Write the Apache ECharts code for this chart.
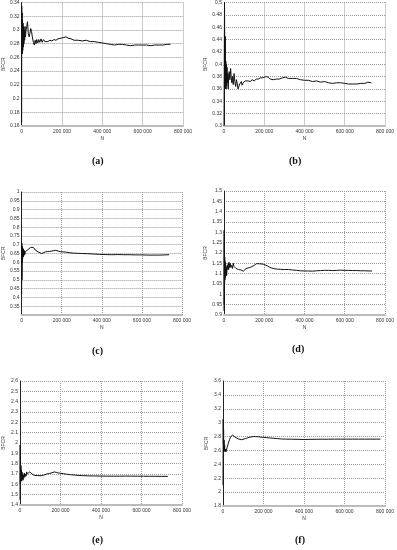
<!DOCTYPE html>
<html><head><meta charset="utf-8">
<script src="https://cdn.jsdelivr.net/npm/echarts@6/dist/echarts.min.js"></script>
<style>html,body{margin:0;padding:0;background:#fff}#c{width:397px;height:550px}</style>
</head><body><div id="c"></div>
<script>
// ---- Data (N, BFCR) per panel ----
const nA = [0,500,1500,2500,3500,4500,5500,7000,8500,10000,11500,13000,15000,17000,19000,22000,25000,29000,33000,37000,41000,45000,49000,53000,58000,63000,67000,71000,75000,80000,85000,90000,96000,102000,108000,115000,122000,130000,140000,150000,160000,170000,180000,195000,210000,220000,230000,245000,260000,280000,300000,320000,340000,360000,380000,400000,420000,440000,460000,480000,500000,520000,540000,560000,580000,600000,620000,640000,660000,680000,700000,720000,738000];
const yA = [0.165,0.335,0.28,0.325,0.265,0.315,0.27,0.31,0.275,0.305,0.28,0.30,0.285,0.305,0.29,0.30,0.305,0.312,0.295,0.29,0.295,0.302,0.298,0.29,0.282,0.278,0.285,0.28,0.286,0.281,0.286,0.282,0.287,0.282,0.286,0.283,0.285,0.283,0.285,0.284,0.286,0.285,0.287,0.288,0.289,0.29,0.288,0.287,0.285,0.285,0.284,0.285,0.283,0.283,0.282,0.281,0.28,0.279,0.278,0.279,0.279,0.278,0.277,0.278,0.278,0.278,0.278,0.277,0.278,0.278,0.278,0.279,0.279];

const nB = [0,1000,2500,4000,5000,6500,7500,9000,10500,12000,13500,15000,17000,19000,21000,23000,26000,29000,33000,36000,39000,42000,46000,50000,54000,58000,62000,66000,70000,74000,78000,82000,86000,90000,95000,100000,106000,112000,120000,130000,140000,150000,160000,170000,180000,190000,200000,210000,220000,230000,245000,260000,275000,290000,305000,320000,340000,360000,380000,400000,420000,440000,460000,480000,500000,520000,540000,560000,580000,600000,620000,640000,660000,680000,700000,715000,732000];
const yB = [0.30,0.38,0.5,0.40,0.36,0.445,0.36,0.405,0.36,0.40,0.365,0.395,0.37,0.385,0.36,0.38,0.388,0.375,0.393,0.378,0.37,0.38,0.367,0.385,0.372,0.364,0.375,0.368,0.36,0.358,0.368,0.365,0.372,0.366,0.37,0.368,0.373,0.37,0.373,0.372,0.375,0.373,0.376,0.376,0.378,0.378,0.379,0.38,0.379,0.376,0.375,0.376,0.376,0.378,0.379,0.377,0.377,0.377,0.375,0.374,0.374,0.372,0.373,0.371,0.372,0.37,0.369,0.37,0.37,0.369,0.368,0.368,0.368,0.369,0.369,0.371,0.37];

const nC = [0,800,1600,2400,3200,4000,5000,6000,7000,8000,9500,11000,12500,14000,16000,18000,20000,23000,27000,32000,38000,45000,50000,54000,58000,63000,70000,78000,86000,93000,100000,108000,118000,128000,138000,148000,158000,168000,175000,185000,195000,210000,225000,240000,260000,280000,300000,330000,360000,390000,420000,450000,480000,510000,540000,570000,600000,630000,660000,690000,715000,736000];
const yC = [0.42,0.71,0.5,0.68,0.6,0.69,0.62,0.68,0.63,0.675,0.635,0.67,0.64,0.665,0.645,0.66,0.65,0.665,0.665,0.672,0.677,0.685,0.69,0.696,0.685,0.675,0.668,0.662,0.657,0.652,0.65,0.656,0.659,0.661,0.662,0.663,0.666,0.668,0.665,0.663,0.66,0.659,0.657,0.654,0.652,0.651,0.65,0.649,0.647,0.645,0.644,0.643,0.644,0.643,0.643,0.642,0.642,0.641,0.641,0.641,0.642,0.643];

const nD = [0,700,1400,2100,2800,3500,4200,5000,6000,7000,8000,9000,10000,11500,13000,15000,17000,19000,21000,23000,25000,28000,31000,34000,38000,42000,46000,50000,55000,60000,66000,72000,78000,84000,90000,96000,102000,110000,120000,130000,140000,150000,160000,168000,176000,185000,195000,205000,215000,225000,235000,250000,265000,280000,300000,320000,340000,360000,380000,400000,420000,440000,460000,480000,500000,520000,540000,560000,580000,600000,620000,640000,660000,680000,700000,720000,735000];
const yD = [0.92,1.31,0.95,1.25,1.05,1.18,1.07,1.16,1.08,1.15,1.09,1.14,1.10,1.13,1.09,1.12,1.14,1.12,1.15,1.12,1.155,1.13,1.15,1.13,1.14,1.125,1.15,1.135,1.14,1.125,1.12,1.12,1.122,1.118,1.115,1.112,1.118,1.125,1.128,1.13,1.135,1.14,1.148,1.15,1.148,1.145,1.146,1.142,1.138,1.132,1.128,1.124,1.122,1.121,1.12,1.12,1.118,1.116,1.114,1.113,1.113,1.112,1.114,1.115,1.116,1.116,1.115,1.116,1.117,1.116,1.116,1.115,1.115,1.114,1.114,1.113,1.113];

const nE = [0,800,1600,2500,3500,4500,5500,7000,8500,10000,11500,13000,15000,17000,19000,21000,24000,27000,30000,33000,36000,40000,44000,48000,52000,56000,60000,66000,72000,80000,88000,96000,104000,112000,122000,132000,145000,158000,170000,180000,190000,200000,215000,230000,250000,270000,290000,310000,340000,370000,400000,430000,460000,490000,520000,550000,580000,610000,640000,670000,700000,730000];
const yE = [1.45,1.98,1.60,1.83,1.63,1.78,1.64,1.74,1.63,1.72,1.65,1.70,1.64,1.69,1.66,1.71,1.67,1.70,1.68,1.72,1.70,1.71,1.70,1.72,1.725,1.715,1.70,1.69,1.685,1.69,1.685,1.68,1.683,1.69,1.692,1.70,1.705,1.712,1.72,1.715,1.71,1.707,1.703,1.698,1.693,1.69,1.686,1.684,1.682,1.681,1.68,1.679,1.679,1.679,1.68,1.679,1.679,1.678,1.678,1.678,1.677,1.677];

const nF = [0,1000,2000,3000,4000,5000,6500,8000,9500,11000,13000,15000,17000,20000,24000,28000,33000,38000,43000,48000,53000,60000,68000,76000,84000,92000,100000,110000,120000,130000,140000,150000,160000,170000,180000,190000,200000,215000,230000,250000,270000,290000,310000,340000,370000,400000,430000,460000,490000,520000,550000,580000,610000,640000,670000,700000,730000,760000,778000];
const yF = [2.1,3.05,2.7,2.9,2.62,2.75,2.6,2.68,2.58,2.62,2.6,2.58,2.6,2.64,2.68,2.72,2.76,2.8,2.82,2.82,2.81,2.79,2.775,2.765,2.76,2.755,2.76,2.77,2.78,2.79,2.795,2.8,2.8,2.798,2.795,2.79,2.788,2.785,2.78,2.775,2.77,2.765,2.763,2.762,2.76,2.758,2.76,2.761,2.762,2.762,2.763,2.763,2.763,2.763,2.763,2.763,2.763,2.763,2.763];

const captions = ['(a)','(b)','(c)','(d)','(e)','(f)'];
const yMins = [0.16,0.3,0.3,0.9,1.4,1.8];
const yMaxs = [0.34,0.5,1,1.5,2.6,3.6];
const yIntervals = [0.02,0.02,0.05,0.05,0.1,0.2];
const xMax = 800000, xInterval = 200000;

const seriesN = [nA,nB,nC,nD,nE,nF];
const seriesY = [yA,yB,yC,yD,yE,yF];

// ---- Layout ----
const grids = [
  {left:19, top:2, width:164, height:124},
  {left:224, top:2, width:164, height:124},
  {left:19, top:192, width:163, height:123},
  {left:224, top:191, width:164, height:124},
  {left:17, top:381, width:165, height:124},
  {left:223, top:381, width:164, height:125}
];
const capPos = [[100,163],[297,163],[100,353],[300,351],[100,542],[303,542]];

const font = 'Liberation Sans, Arial, sans-serif';
const xAxes = [], yAxes = [], series = [], graphics = [];
for (let i = 0; i < 6; i++) {
  xAxes.push({
    type:'value', gridIndex:i, min:0, max:xMax, interval:xInterval,
    name:'N', nameLocation:'middle', nameGap:10,
    nameTextStyle:{fontSize:5, color:'#333', fontFamily:font},
    axisLine:{show:true, lineStyle:{color:'#bbb', width:2}},
    axisTick:{show:false},
    axisLabel:{fontSize:5, color:'#333', margin:3, fontFamily:font,
      formatter: v => v === 0 ? '0' : String(v).replace(/\B(?=(\d{3})+(?!\d))/g, ' ')},
    splitLine:{show:true, lineStyle:{color:'#999', type:'dotted', width:1}}
  });
  const yi = i;
  yAxes.push({
    type:'value', gridIndex:i, min:yMins[i], max:yMaxs[i], interval:yIntervals[i],
    name:'BFCR', nameLocation:'middle', nameGap:14, nameRotate:90,
    nameTextStyle:{fontSize:5, color:'#333', fontFamily:font},
    axisLine:{show:true, lineStyle:{color:'#222', width:1}},
    axisTick:{show:false},
    axisLabel:{fontSize:5, color:'#333', margin:2, fontFamily:font,
      formatter: v => (yi === 2 && Math.abs(v - 0.3) < 1e-9) ? '' : String(+(+v).toFixed(2))},
    splitLine:{show:true, lineStyle:{color:'#999', type:'dotted', width:1}}
  });
  series.push({
    type:'line', xAxisIndex:i, yAxisIndex:i, showSymbol:false, symbol:'none',
    data: seriesN[i].map((n, k) => [n, seriesY[i][k]]),
    lineStyle:{color:'#111', width:1}, animation:false
  });
  graphics.push({
    type:'text', left:capPos[i][0]-8, top:capPos[i][1]-7,
    style:{text:captions[i], fontSize:10, fontWeight:'bold', fontFamily:'Liberation Serif, DejaVu Serif, serif', fill:'#111'}
  });
}

const chart = echarts.init(document.getElementById('c'), null, {renderer:'canvas'});
chart.setOption({
  animation:false,
  backgroundColor:'#fff',
  grid: grids,
  xAxis: xAxes,
  yAxis: yAxes,
  series: series,
  graphic: graphics
});
</script></body></html>
